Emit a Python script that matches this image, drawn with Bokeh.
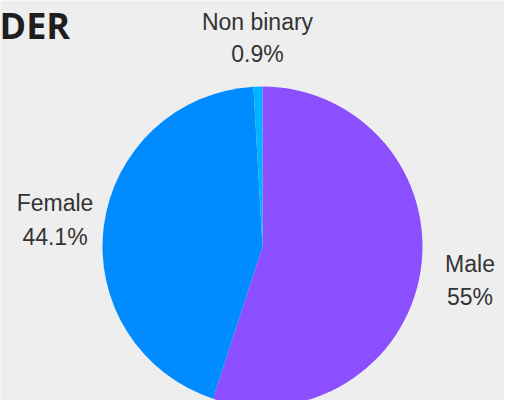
import math
from bokeh.plotting import figure
from bokeh.models import ColumnDataSource
from bokeh.core.properties import value
from bokeh.embed import file_html
from bokeh.resources import INLINE

categories = ["Male", "Female", "Non binary"]
shares = [55.0, 44.1, 0.9]
share_labels = ["55%", "44.1%", "0.9%"]
colors = ["#8C4FFF", "#008CFF", "#00B2FF"]
title_text = "DER"

W, H = 504, 400
p = figure(width=W, height=H, x_range=(0, W), y_range=(0, H),
           output_backend="svg", toolbar_location=None, min_border=0,
           background_fill_color="#EEEEEE", border_fill_color="#EEEEEE",
           outline_line_color=None)
p.axis.visible = False
p.grid.visible = False

total = sum(shares)
starts, ends = [], []
acc = 0.0
for s in shares:
    a0 = math.pi / 2 - 2 * math.pi * acc / total
    acc += s
    a1 = math.pi / 2 - 2 * math.pi * acc / total
    starts.append(a0)
    ends.append(a1)

src = ColumnDataSource(dict(cat=categories, start=starts, end=ends, color=colors))
cx, cy, r = 262, 154, 160
p.wedge(x=cx, y=cy, radius=r, start_angle="start", end_angle="end",
        direction="clock", fill_color="color", line_color=None, source=src)

# labels (baselines)
lab_x = [469.5, 54.5, 257]
name_y = [137, 198, 379]
pct_y = [104, 164, 347]
lsrc = ColumnDataSource(dict(x=lab_x, y=name_y, y2=pct_y,
                             name=categories, pct=share_labels))
p.text(x="x", y="y", text="name", source=lsrc, text_align="center",
       text_baseline="alphabetic", text_font=value("Liberation Sans"),
       text_font_size="23px", text_color="#333333")
p.text(x="x", y="y2", text="pct", source=lsrc, text_align="center",
       text_baseline="alphabetic", text_font=value("Liberation Sans"),
       text_font_size="23px", text_color="#333333")

p.text(x=[-1], y=[375], text=[title_text], text_align="left",
       text_baseline="alphabetic", text_font=value("Open Sans"),
       text_font_style="bold", text_font_size="36px", text_color="#1E1E1E")

open("out.html", "w").write(file_html(p, INLINE))
